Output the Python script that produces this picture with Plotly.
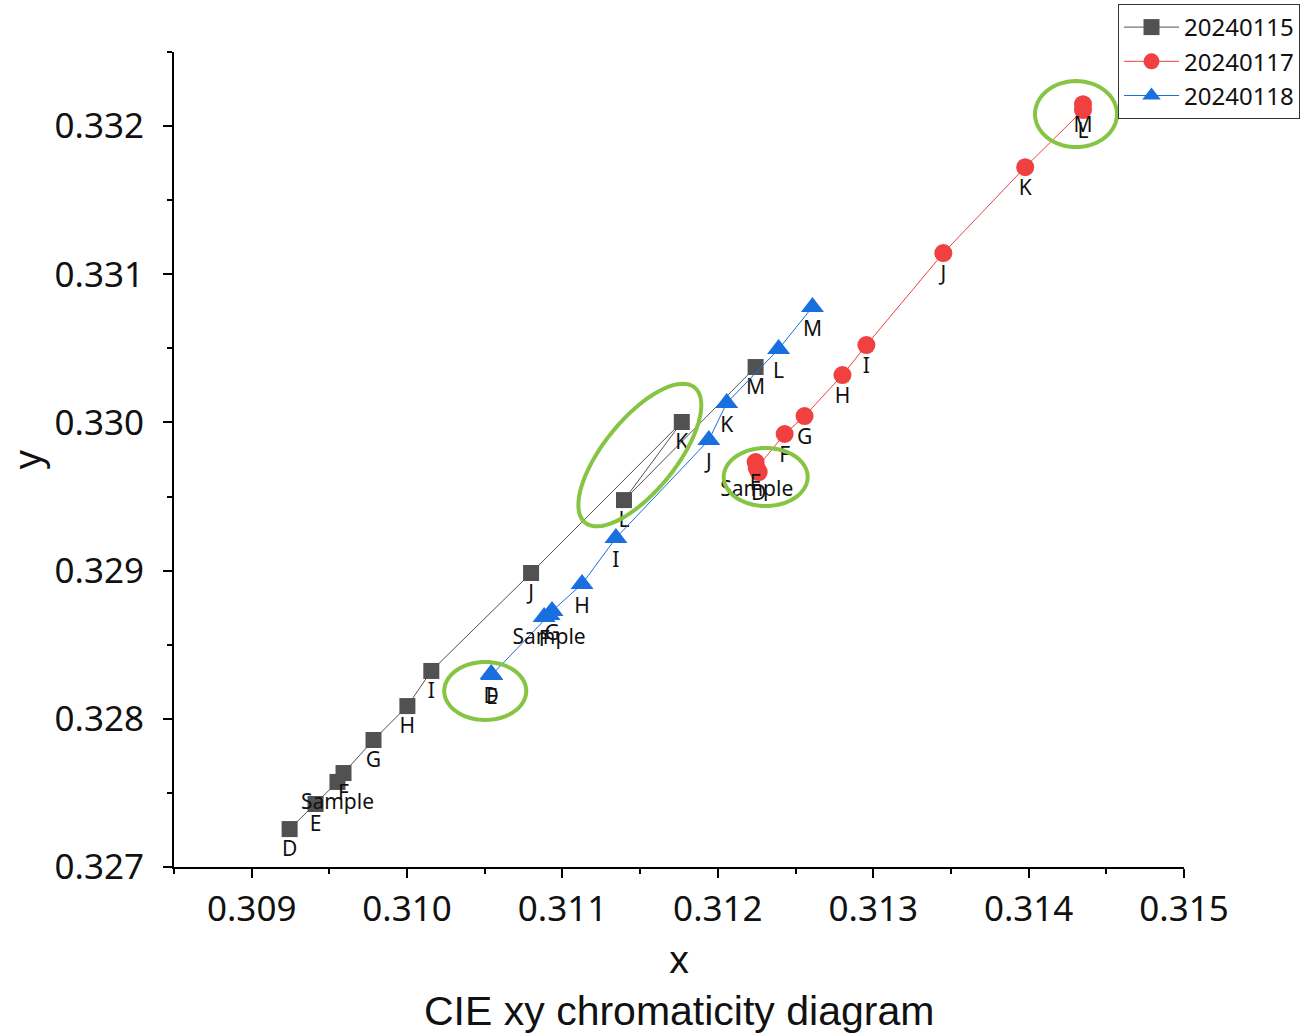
import math
import plotly.graph_objects as go

# ---------------- data ----------------
labels_115 = ["D", "E", "Sample", "F", "G", "H", "I", "J", "K", "L", "M"]
x_115 = [0.309244, 0.309411, 0.309552, 0.309591, 0.309784, 0.310002, 0.310156, 0.310798, 0.311768, 0.311396, 0.312243]
y_115 = [0.327256, 0.327425, 0.327574, 0.327634, 0.327857, 0.328086, 0.328323, 0.328984, 0.330003, 0.329476, 0.330374]

labels_117 = ["D", "E", "Sample", "F", "G", "H", "I", "J", "K", "L", "M"]
x_117 = [0.312263, 0.312243, 0.312250, 0.312430, 0.312558, 0.312802, 0.312956, 0.313451, 0.313978, 0.314350, 0.314350]
y_117 = [0.329665, 0.329733, 0.329692, 0.329922, 0.330043, 0.330320, 0.330522, 0.331143, 0.331723, 0.332108, 0.332148]

labels_118 = ["D", "E", "Sample", "F", "G", "H", "I", "J", "K", "L", "M"]
x_118 = [0.310541, 0.310545, 0.310914, 0.310882, 0.310933, 0.311126, 0.311344, 0.311942, 0.312057, 0.312391, 0.312609]
y_118 = [0.328302, 0.328296, 0.328700, 0.328687, 0.328727, 0.328910, 0.329220, 0.329881, 0.330131, 0.330495, 0.330779]

series_names = ["20240115", "20240117", "20240118"]

# highlight ellipses: centre (data), semi-axes (px), rotation (deg)
highlight_cx = [0.314305, 0.311498, 0.312308, 0.310503]
highlight_cy = [0.332081, 0.329780, 0.329632, 0.328188]
highlight_a = [41, 87, 42, 41]
highlight_b = [33, 36, 29, 29]
highlight_rot = [0, 51, 0, 0]

# ---------------- layout constants ----------------
W, H = 1309, 1036
ML, MR, MT, MB = 174, 125, 52, 169
XR = [0.3085, 0.315]
YR = [0.327, 0.3325]
kx = (W - ML - MR) / (XR[1] - XR[0])
ky = (H - MT - MB) / (YR[1] - YR[0])

fig = go.Figure()

styles = [
    dict(color="#515151", symbol="square", size=16),
    dict(color="#F14040", symbol="circle", size=18),
    dict(color="#1A6FDF", symbol="triangle-up", size=20),
]
for name, xs, ys, labs, st in zip(series_names, [x_115, x_117, x_118], [y_115, y_117, y_118],
                                  [labels_115, labels_117, labels_118], styles):
    fig.add_trace(go.Scatter(
        x=xs, y=ys, name=name, mode="lines+markers+text",
        text=labs, textposition="bottom center",
        textfont=dict(family="Noto Sans", size=21, color="#111111"),
        line=dict(color=st["color"], width=1),
        marker=dict(color=st["color"], symbol=st["symbol"], size=st["size"], line=dict(width=0)),
    ))

# ellipses
for cx, cy, a, b, rot in zip(highlight_cx, highlight_cy, highlight_a, highlight_b, highlight_rot):
    th = math.radians(rot)
    pts = []
    for i in range(73):
        t = 2 * math.pi * i / 72
        dx = a * math.cos(t) * math.cos(th) - b * math.sin(t) * math.sin(th)
        dy = a * math.cos(t) * math.sin(th) + b * math.sin(t) * math.cos(th)
        pts.append((cx + dx / kx, cy + dy / ky))
    path = "M " + " L ".join(f"{px:.7f},{py:.7f}" for px, py in pts) + " Z"
    fig.add_shape(type="path", path=path, xref="x", yref="y",
                  line=dict(color="#86C443", width=4), fillcolor="rgba(0,0,0,0)")

axis_common = dict(
    showgrid=False, zeroline=False, showline=True, linecolor="black", linewidth=2,
    ticks="outside", ticklen=9, tickwidth=2, tickcolor="black",
    tickformat=".3f", dtick=0.001,
    minor=dict(ticks="outside", ticklen=5, tickwidth=2, tickcolor="black", dtick=0.0005),
    tickfont=dict(family="Noto Sans", size=35, color="#111111"),
    mirror=False, automargin=False,
)

fig.update_layout(
    width=W, height=H,
    margin=dict(l=ML, r=MR, t=MT, b=MB, autoexpand=False),
    paper_bgcolor="white", plot_bgcolor="white",
    xaxis=dict(range=XR, tick0=0.309, ticklabelstandoff=1,
               title=dict(text="x", font=dict(family="Noto Sans", size=38, color="#111111"), standoff=16),
               **axis_common),
    yaxis=dict(range=YR, tick0=0.327, ticklabelstandoff=12,
               title=dict(text="y", font=dict(family="Noto Sans", size=38, color="#111111"), standoff=16),
               **axis_common),
    legend=dict(xref="container", yref="container", x=1118 / W, y=1 - 4 / H, xanchor="left", yanchor="top",
                bordercolor="#333333", borderwidth=1, bgcolor="white",
                font=dict(family="Noto Sans", size=24, color="#111111"),
                tracegroupgap=0, itemwidth=55),
    showlegend=True,
    annotations=[dict(text="CIE xy chromaticity diagram", xref="paper", yref="paper",
                      x=0.5, y=-(1011 - (H - MB)) / (H - MT - MB), xanchor="center", yanchor="middle",
                      showarrow=False, font=dict(family="Liberation Sans", size=41, color="#111111"))],
)

fig.write_html("out.html")
